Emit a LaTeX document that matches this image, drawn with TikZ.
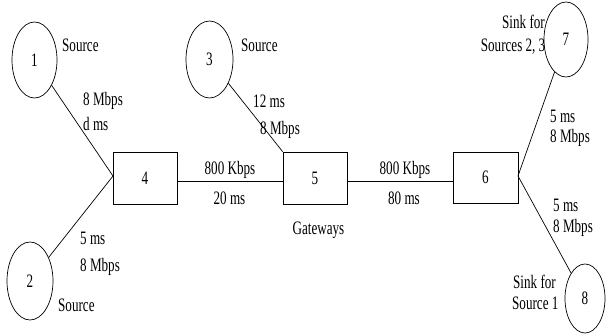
\documentclass[tikz,border=0pt]{standalone}
\usepackage{fontspec}
\setmainfont{Liberation Serif}[FakeStretch=0.69]
\usetikzlibrary{shapes.geometric}
\begin{document}
\begin{tikzpicture}[x=1pt,y=-1pt,
  every node/.style={font=\fontsize{19}{22}\selectfont, inner sep=0pt},
  host/.style={draw, ellipse, line width=0.7pt},
  gw/.style={draw, rectangle, line width=0.7pt},
  link/.style={line width=0.7pt},
  lbl/.style={anchor=west}]
\useasboundingbox (0,0) rectangle (606,334);
% hosts
\node[host, minimum width=45pt, minimum height=76pt] (n1) at (34.5,60) {1};
\node[host, minimum width=46pt, minimum height=78pt] (n2) at (30,281) {2};
\node[host, minimum width=47pt, minimum height=77pt] (n3) at (209.5,59.5) {3};
\node[host, minimum width=44pt, minimum height=75pt] (n7) at (566,39.5) {7};
\node[host, minimum width=40pt, minimum height=69pt] (n8) at (585,298.5) {8};
% gateways
\node[gw, minimum width=64pt, minimum height=52pt] (n4) at (145,178) {4};
\node[gw, minimum width=64pt, minimum height=52pt] (n5) at (315,178) {5};
\node[gw, minimum width=65pt, minimum height=51pt] (n6) at (485.5,177.5) {6};
% connection points
\coordinate (a4) at (113,176);
\coordinate (a6) at (518,176);
% links
\draw[link] (n1) -- (a4);
\draw[link] (n2) -- (a4);
\draw[link] (n3) -- (n5.north west);
\draw[link] (n4.east |- 0,181) -- (n5.west |- 0,181);
\draw[link] (n5.east |- 0,181) -- (n6.west |- 0,181);
\draw[link] (a6) -- (n7);
\draw[link] (a6) -- (n8);
% labels
\node[lbl] (s1) at (62,45) {Source};
\node[lbl] (l1a) at (83,101) {8 Mbps};
\node[lbl] (l1b) at (83,124) {d ms};
\node[lbl] (l2a) at (80,238) {5 ms};
\node[lbl] (l2b) at (80,267) {8 Mbps};
\node[lbl] (s2) at (58,305) {Source};
\node[lbl] (s3) at (241,45) {Source};
\node[lbl] (l3a) at (253,101) {12 ms};
\node[lbl] (l3b) at (260,130) {8 Mbps};
\node (l45a) at (230,170) {800 Kbps};
\node (l45b) at (229.5,198) {20 ms};
\node (gwl) at (318.5,230) {Gateways};
\node (l56a) at (405,170) {800 Kbps};
\node (l56b) at (404,198) {80 ms};
\node[anchor=east] (s7a) at (545,22) {Sink for};
\node[anchor=east] (s7b) at (545.5,47) {Sources 2, 3};
\node[lbl] (l7a) at (550,116) {5 ms};
\node[lbl] (l7b) at (550,138) {8 Mbps};
\node[lbl] (l8a) at (553,205) {5 ms};
\node[lbl] (l8b) at (553,228) {8 Mbps};
\node[lbl] (s8a) at (513,282) {Sink for};
\node[lbl] (s8b) at (512,303) {Source 1};
\end{tikzpicture}
\end{document}
